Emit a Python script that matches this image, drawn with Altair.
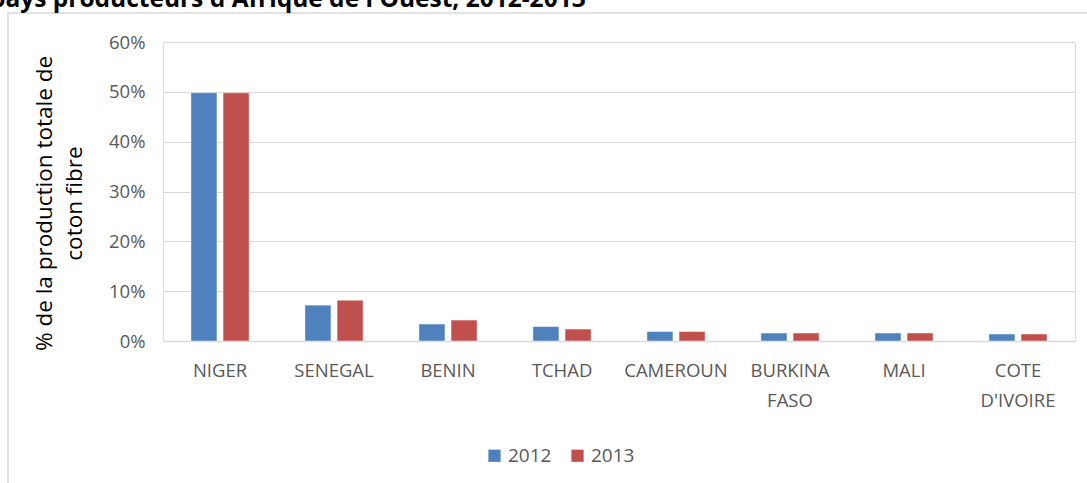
import altair as alt
import pandas as pd

countries = ["NIGER", "SENEGAL", "BENIN", "TCHAD", "CAMEROUN", "BURKINA FASO", "MALI", "COTE D'IVOIRE"]
years = ["2012", "2013"]
v2012 = [0.498, 0.072, 0.034, 0.029, 0.019, 0.016, 0.016, 0.014]
v2013 = [0.498, 0.082, 0.042, 0.024, 0.019, 0.016, 0.016, 0.014]
colors = ["#4f81bd", "#c0504d"]
title_text = "pays producteurs d'Afrique de l'Ouest, 2012-2013"
y_title = ["% de la production totale de", "coton fibre"]

rows = []
for i, c in enumerate(countries):
    rows.append({"pays": c, "annee": years[0], "val": v2012[i]})
    rows.append({"pays": c, "annee": years[1], "val": v2013[i]})
df = pd.DataFrame(rows)

FONT = "Open Sans"

bars = alt.Chart(df).mark_bar(stroke="white", strokeOpacity=0.45, strokeWidth=1).encode(
    x=alt.X("pays:N", sort=countries,
            scale=alt.Scale(paddingInner=0.49, paddingOuter=0.245),
            axis=alt.Axis(title=None, labelExpr="split(datum.value, ' ')",
                          labelAngle=0, ticks=False, domain=True, domainColor="#d9d9d9",
                          domainWidth=1.5, labelColor="#595959", labelFont=FONT,
                          labelFontSize=18.5, labelPadding=20, labelLineHeight=30,
                          grid=False)),
    xOffset=alt.XOffset("annee:N", sort=years, scale=alt.Scale(paddingInner=0.19)),
    y=alt.Y("val:Q", scale=alt.Scale(domain=[0, 0.6], nice=False),
            axis=alt.Axis(title=y_title, format=".0%", values=[0, 0.1, 0.2, 0.3, 0.4, 0.5, 0.6],
                          domain=False, ticks=False, grid=True, gridColor="#d9d9d9",
                          labelColor="#595959", labelFont=FONT, labelFontSize=18.5,
                          labelPadding=18, titleFont=FONT, titleFontSize=22.5,
                          titleFontWeight="normal", titleColor="#000000",
                          titlePadding=22, titleLineHeight=30, titleY=161)),
    color=alt.Color("annee:N", sort=years,
                    scale=alt.Scale(domain=years, range=colors),
                    legend=alt.Legend(title=None, orient="none", legendX=322, legendY=404,
                                      direction="horizontal", symbolType="square",
                                      symbolSize=150, symbolStrokeWidth=0,
                                      labelFont=FONT, labelFontSize=19, labelColor="#595959",
                                      columnPadding=16, labelOffset=4)),
)

border = alt.Chart(pd.DataFrame({"a": [0]})).mark_rect(
    fill=None, stroke="#d9d9d9", strokeWidth=1.5
).encode(x=alt.value(-155), x2=alt.value(960), y=alt.value(-29), y2=alt.value(470))

title_mark = alt.Chart(pd.DataFrame({"t": [title_text]})).mark_text(
    align="left", baseline="alphabetic", font=FONT, fontSize=24.5, fontWeight="bold",
    color="#000000"
).encode(text="t:N", x=alt.value(-173), y=alt.value(-35))

chart = alt.layer(border, bars, title_mark).properties(
    width=912, height=299,
    autosize=alt.AutoSizeParams(type="none"),
    padding={"left": 163, "top": 42, "right": 12, "bottom": 142},
).configure_view(stroke=None).configure(background="white")

chart.save("out.html", embed_options={"renderer": "svg", "actions": False})
